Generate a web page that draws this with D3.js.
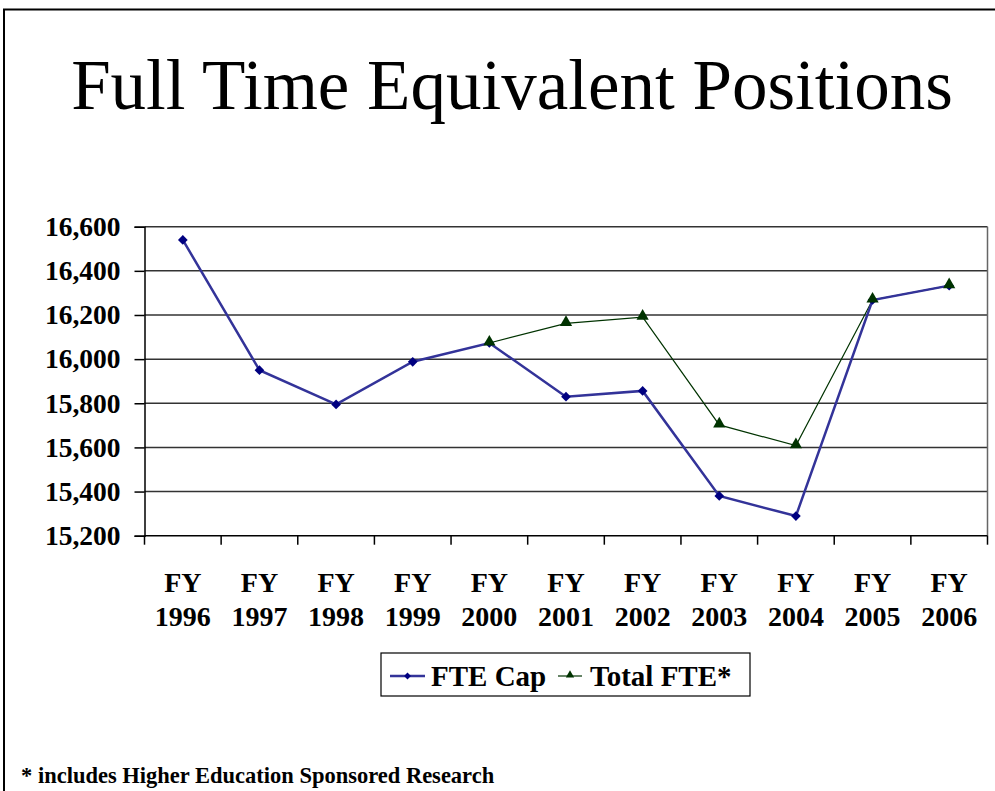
<!DOCTYPE html>
<html>
<head>
<meta charset="utf-8">
<script src="https://cdn.jsdelivr.net/npm/d3@7"></script>
<style>
  body { margin: 0; background: #fff; }
  svg { display: block; font-family: "Liberation Serif", "Times New Roman", serif; }
</style>
</head>
<body>
<svg id="chart" width="995" height="791"></svg>
<script>
// Data
const years = ["1996", "1997", "1998", "1999", "2000", "2001", "2002", "2003", "2004", "2005", "2006"];
const fteCap = [16540, 15950, 15795, 15988, 16073, 15830, 15856, 15380, 15289, 16268, 16333];
const totalFte = [null, null, null, null, 16073, 16162, 16190, 15702, 15608, 16268, 16333];
const yTicks = [15200, 15400, 15600, 15800, 16000, 16200, 16400, 16600];

const svg = d3.select("#chart");
const plot = {left: 144.5, right: 987.5, top: 226.7, bottom: 535.7};

// slide frame
svg.append("path")
  .attr("d", "M4,800 L4,9.5 L1000,9.5")
  .attr("fill", "none").attr("stroke", "#000").attr("stroke-width", 2);

svg.append("text")
  .attr("x", 512).attr("y", 109)
  .attr("text-anchor", "middle")
  .attr("font-size", 71)
  .text("Full Time Equivalent Positions");

const x = d3.scaleBand().domain(years).range([plot.left, plot.right]);
const y = d3.scaleLinear().domain([15200, 16600]).range([plot.bottom, plot.top]);

// gridlines
svg.append("g").selectAll("line").data(yTicks.slice(1)).join("line")
  .attr("x1", plot.left).attr("x2", plot.right)
  .attr("y1", d => y(d)).attr("y2", d => y(d))
  .attr("stroke", "#333").attr("stroke-width", 1.5);

// right edge of the plot area
svg.append("line")
  .attr("x1", plot.right).attr("x2", plot.right)
  .attr("y1", plot.top).attr("y2", plot.bottom)
  .attr("stroke", "#666").attr("stroke-width", 1.5);

// y axis
const yAxis = svg.append("g")
  .attr("transform", `translate(${plot.left},0)`)
  .call(d3.axisLeft(y).tickValues(yTicks).tickSize(10).tickPadding(14).tickFormat(d3.format(",")));
yAxis.select(".domain").attr("stroke-width", 1.5);
yAxis.selectAll(".tick line").attr("stroke-width", 1.5);
yAxis.selectAll("text")
  .attr("font-size", 27.5).attr("font-weight", "bold")
  .attr("font-family", "Liberation Serif").attr("fill", "#000");

// x axis: ticks on band edges
const xAxisG = svg.append("g");
xAxisG.append("line")
  .attr("x1", plot.left).attr("x2", plot.right)
  .attr("y1", plot.bottom).attr("y2", plot.bottom)
  .attr("stroke", "#000").attr("stroke-width", 1.5);
xAxisG.selectAll("line.tk").data(years.concat(["end"])).join("line")
  .attr("class", "tk")
  .attr("x1", (d, i) => plot.left + i * x.bandwidth())
  .attr("x2", (d, i) => plot.left + i * x.bandwidth())
  .attr("y1", plot.bottom).attr("y2", plot.bottom + 9)
  .attr("stroke", "#000").attr("stroke-width", 1.5);
const xl = xAxisG.selectAll("text").data(years).join("text")
  .attr("x", d => x(d) + x.bandwidth() / 2)
  .attr("text-anchor", "middle")
  .attr("font-size", 28).attr("font-weight", "bold");
xl.append("tspan").attr("x", d => x(d) + x.bandwidth() / 2).attr("y", 592).text("FY");
xl.append("tspan").attr("x", d => x(d) + x.bandwidth() / 2).attr("y", 626).text(d => d);

const cx = (d, i) => x(years[i]) + x.bandwidth() / 2;
const line = d3.line().defined(d => d != null).x(cx).y(d => y(d));

// Total FTE (green, thin)
svg.append("path").datum(totalFte)
  .attr("d", line).attr("fill", "none")
  .attr("stroke", "#003300").attr("stroke-width", 1.2);
// FTE Cap (blue, thick)
svg.append("path").datum(fteCap)
  .attr("d", line).attr("fill", "none")
  .attr("stroke", "#333399").attr("stroke-width", 2.5);

const diamond = d3.symbol().type(d3.symbolDiamond2).size(60);
const triangle = d3.symbol().type(d3.symbolTriangle).size(65);

svg.append("g").selectAll("path").data(fteCap).join("path")
  .attr("d", diamond)
  .attr("transform", (d, i) => `translate(${cx(d, i)},${y(d)})`)
  .attr("fill", "#000080");
svg.append("g").selectAll("path").data(totalFte.map((v, i) => [v, i]).filter(p => p[0] != null)).join("path")
  .attr("d", triangle)
  .attr("transform", p => `translate(${cx(p[0], p[1])},${y(p[0]) - 1})`)
  .attr("fill", "#003300");

// legend
const lg = svg.append("g");
lg.append("rect")
  .attr("x", 381).attr("y", 653).attr("width", 369).attr("height", 43)
  .attr("fill", "#fff").attr("stroke", "#000").attr("stroke-width", 1.2);
lg.append("line").attr("x1", 390).attr("x2", 425).attr("y1", 676).attr("y2", 676)
  .attr("stroke", "#333399").attr("stroke-width", 2.5);
lg.append("path").attr("d", d3.symbol().type(d3.symbolDiamond2).size(30))
  .attr("transform", "translate(407.5,676)").attr("fill", "#000080");
lg.append("text").attr("x", 431).attr("y", 686)
  .attr("font-size", 29).attr("font-weight", "bold").text("FTE Cap");
lg.append("line").attr("x1", 558).attr("x2", 582).attr("y1", 676).attr("y2", 676)
  .attr("stroke", "#003300").attr("stroke-width", 1.2);
lg.append("path").attr("d", d3.symbol().type(d3.symbolTriangle).size(30))
  .attr("transform", "translate(570,675)").attr("fill", "#003300");
lg.append("text").attr("x", 590).attr("y", 686)
  .attr("font-size", 29).attr("font-weight", "bold").text("Total FTE*");

// footnote
svg.append("text")
  .attr("x", 21).attr("y", 783)
  .attr("font-size", 22.5).attr("font-weight", "bold")
  .text("* includes Higher Education Sponsored Research");
</script>
</body>
</html>
